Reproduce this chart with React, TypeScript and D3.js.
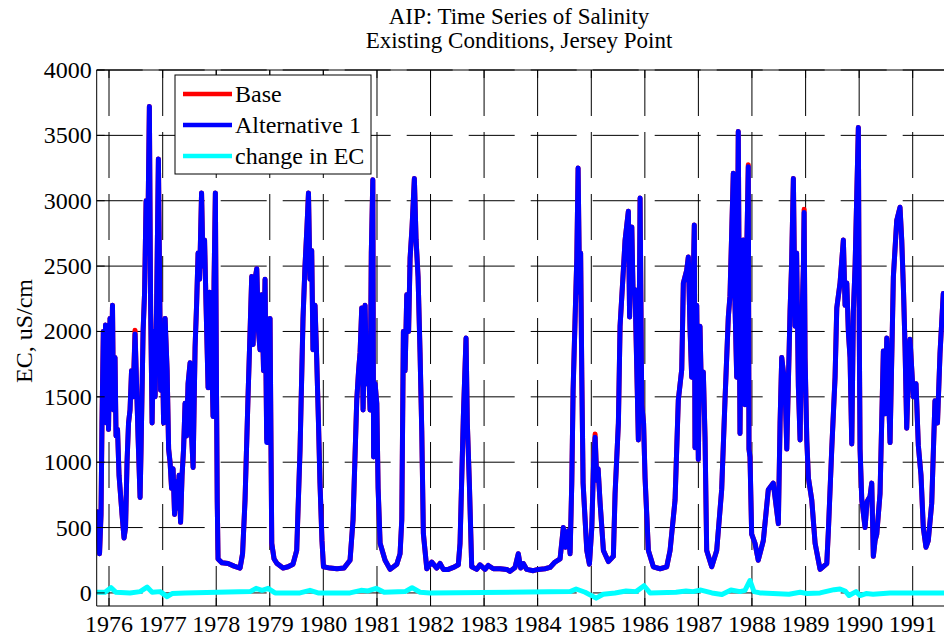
import React from "react";
import * as d3 from "d3";

const titleLines = ["AIP: Time Series of Salinity", "Existing Conditions, Jersey Point"];
const yLabel = "EC, uS/cm";
const legendLabels = ["Base", "Alternative 1", "change in EC"];
const seriesColors = ["#ff0000", "#0000ff", "#00ffff"];
const yTicks = [0, 500, 1000, 1500, 2000, 2500, 3000, 3500, 4000];
const xTickYears = [1976, 1977, 1978, 1979, 1980, 1981, 1982, 1983, 1984, 1985, 1986, 1987, 1988, 1989, 1990, 1991];

// [decimal year, EC uS/cm], Alternative 1
const altSeries: [number, number][] = [
  [1975.776, 620], [1975.795, 450], [1975.823, 300], [1975.851, 600], [1975.869, 1300],
  [1975.894, 2000], [1975.916, 1400], [1975.935, 2050], [1975.953, 1300], [1975.972, 1950],
  [1975.991, 1250], [1976.019, 2100], [1976.037, 1500], [1976.065, 2200], [1976.084, 1400],
  [1976.112, 1800], [1976.131, 1200], [1976.159, 1250], [1976.187, 900], [1976.215, 750],
  [1976.243, 600], [1976.28, 420], [1976.308, 500], [1976.336, 1000], [1976.364, 1300],
  [1976.392, 1400], [1976.42, 1700], [1976.448, 1500], [1976.485, 1980], [1976.513, 1600],
  [1976.541, 1200], [1976.579, 730], [1976.597, 1100], [1976.635, 2000], [1976.663, 2300],
  [1976.691, 3000], [1976.719, 2600], [1976.752, 3720], [1976.775, 2200], [1976.803, 1300],
  [1976.831, 2000], [1976.859, 1500], [1976.887, 2200], [1976.92, 3320], [1976.943, 2400],
  [1976.961, 1550], [1976.989, 2000], [1977.017, 1300], [1977.045, 2100], [1977.083, 1700],
  [1977.111, 1100], [1977.138, 1000], [1977.166, 800], [1977.194, 950], [1977.222, 600],
  [1977.25, 850], [1977.278, 650], [1977.306, 900], [1977.334, 540], [1977.362, 900],
  [1977.39, 1100], [1977.418, 1450], [1977.446, 1200], [1977.474, 1600], [1977.512, 1760],
  [1977.54, 1200], [1977.568, 960], [1977.605, 1880], [1977.633, 2200], [1977.661, 2600],
  [1977.689, 2400], [1977.726, 3060], [1977.754, 2500], [1977.782, 2700], [1977.81, 2200],
  [1977.848, 1570], [1977.876, 2300], [1977.904, 2000], [1977.941, 1350], [1977.96, 2400],
  [1977.984, 3060], [1978.006, 1500], [1978.019, 700], [1978.034, 260], [1978.109, 230],
  [1978.221, 225], [1978.333, 205], [1978.445, 190], [1978.492, 300], [1978.538, 710],
  [1978.594, 1500], [1978.632, 2000], [1978.663, 2420], [1978.688, 1900], [1978.725, 2400],
  [1978.757, 2480], [1978.79, 2000], [1978.818, 1860], [1978.85, 2280], [1978.884, 1700],
  [1978.912, 2400], [1978.943, 1150], [1978.977, 1800], [1979.005, 2100], [1979.037, 380],
  [1979.08, 260], [1979.136, 225], [1979.248, 190], [1979.341, 200], [1979.434, 220],
  [1979.503, 325], [1979.565, 1090], [1979.621, 2100], [1979.658, 2500], [1979.695, 2800],
  [1979.723, 3060], [1979.751, 2400], [1979.783, 2620], [1979.807, 1860], [1979.845, 2200],
  [1979.876, 1800], [1979.91, 1300], [1979.938, 840], [1979.975, 400], [1980.003, 200],
  [1980.125, 190], [1980.255, 185], [1980.386, 190], [1980.498, 250], [1980.554, 560],
  [1980.623, 1475], [1980.657, 1700], [1980.685, 1840], [1980.716, 2180], [1980.741, 1400],
  [1980.778, 2200], [1980.806, 1600], [1980.834, 1860], [1980.871, 1400], [1980.894, 2600],
  [1980.922, 3160], [1980.937, 1040], [1980.965, 1600], [1980.996, 1450], [1981.021, 800],
  [1981.058, 380], [1981.151, 250], [1981.245, 180], [1981.37, 220], [1981.431, 300],
  [1981.463, 560], [1981.493, 2000], [1981.525, 1700], [1981.556, 2280], [1981.59, 2000],
  [1981.618, 2560], [1981.655, 2800], [1981.698, 3170], [1981.73, 2700], [1981.767, 2420],
  [1981.804, 1840], [1981.836, 1240], [1981.866, 455], [1981.93, 185], [1982.023, 236],
  [1982.116, 190], [1982.178, 225], [1982.239, 180], [1982.333, 180], [1982.426, 195],
  [1982.519, 215], [1982.551, 380], [1982.613, 1345], [1982.663, 1950], [1982.687, 1300],
  [1982.725, 840], [1982.769, 200], [1982.863, 180], [1982.924, 215], [1983.018, 180],
  [1983.079, 210], [1983.173, 185], [1983.298, 185], [1983.423, 180], [1983.484, 165],
  [1983.578, 195], [1983.639, 300], [1983.684, 190], [1983.733, 225], [1983.796, 180],
  [1983.919, 170], [1984.013, 180], [1984.138, 185], [1984.231, 195], [1984.324, 236],
  [1984.418, 260], [1984.479, 500], [1984.52, 350], [1984.573, 475], [1984.605, 300],
  [1984.636, 840], [1984.661, 1550], [1984.698, 2100], [1984.73, 2560], [1984.754, 3250],
  [1984.782, 2300], [1984.801, 2600], [1984.823, 1650], [1984.847, 840], [1984.916, 325],
  [1984.965, 220], [1985.009, 500], [1985.043, 1000], [1985.071, 1190], [1985.103, 860],
  [1985.127, 950], [1985.164, 690], [1985.226, 325], [1985.319, 240], [1985.412, 280],
  [1985.444, 760], [1985.506, 1300], [1985.537, 2040], [1985.599, 2470], [1985.631, 2700],
  [1985.692, 2920], [1985.715, 2110], [1985.756, 2800], [1985.78, 2300], [1985.817, 2320],
  [1985.845, 1800], [1985.879, 1170], [1985.911, 3020], [1985.942, 1440], [1985.976, 1300],
  [1986.004, 880], [1986.066, 325], [1986.159, 200], [1986.284, 185], [1986.409, 200],
  [1986.471, 325], [1986.564, 710], [1986.625, 1475], [1986.689, 1710], [1986.719, 2370],
  [1986.782, 2470], [1986.812, 2570], [1986.844, 2020], [1986.875, 1650], [1986.899, 2300],
  [1986.924, 2815], [1986.937, 1110], [1986.969, 2200], [1986.999, 1020], [1987.03, 2040],
  [1987.058, 1500], [1987.092, 1690], [1987.124, 1190], [1987.155, 325], [1987.249, 200],
  [1987.342, 325], [1987.435, 790], [1987.497, 1475], [1987.559, 2110], [1987.59, 2270],
  [1987.652, 3210], [1987.684, 2200], [1987.716, 1650], [1987.745, 3530], [1987.777, 1220],
  [1987.805, 2400], [1987.839, 2700], [1987.87, 1440], [1987.898, 2500], [1987.932, 3260],
  [1987.945, 1100], [1987.964, 1040], [1987.995, 450], [1988.057, 380], [1988.118, 250],
  [1988.212, 400], [1988.305, 790], [1988.398, 840], [1988.492, 530], [1988.524, 1300],
  [1988.555, 1800], [1988.617, 1580], [1988.649, 1100], [1988.71, 2150], [1988.738, 2500],
  [1988.772, 3170], [1988.804, 2040], [1988.832, 2600], [1988.865, 1580], [1988.897, 1170],
  [1988.925, 2000], [1988.959, 2500], [1988.972, 2910], [1988.99, 1800], [1989.022, 1170],
  [1989.052, 880], [1989.115, 710], [1989.177, 380], [1989.27, 180], [1989.395, 225],
  [1989.425, 475], [1989.488, 1100], [1989.55, 1650], [1989.582, 2180], [1989.643, 2370],
  [1989.705, 2700], [1989.737, 2200], [1989.769, 2370], [1989.798, 2000], [1989.83, 1800],
  [1989.862, 1140], [1989.892, 2150], [1989.924, 2500], [1989.985, 3560], [1990.002, 2000],
  [1990.017, 1100], [1990.049, 710], [1990.11, 500], [1990.148, 700], [1990.204, 740],
  [1990.235, 840], [1990.265, 280], [1990.297, 400], [1990.329, 450], [1990.39, 760],
  [1990.452, 1850], [1990.484, 1370], [1990.516, 1950], [1990.577, 1150], [1990.639, 2420],
  [1990.702, 2850], [1990.763, 2950], [1990.795, 2700], [1990.829, 2300], [1990.857, 1880],
  [1990.888, 1260], [1990.922, 1700], [1990.95, 1940], [1991.012, 1500], [1991.062, 1600],
  [1991.105, 1130], [1991.155, 900], [1991.198, 500], [1991.248, 350], [1991.291, 400],
  [1991.355, 685], [1991.416, 1470], [1991.463, 1300], [1991.51, 1830], [1991.571, 2290],
  [1991.622, 2150],
];

// where the red Base line shows above the blue one
const baseOverrides: [number, number][] = [
  [1976.485, 2010], [1978.943, 1175], [1985.071, 1215], [1988.972, 2935], [1987.932, 3275],
];

// change in EC (Alternative 1 minus Base)
const changeSeries: [number, number][] = [
  [1975.776, 5], [1975.925, 5], [1976.037, 40], [1976.131, 5], [1976.392, 0],
  [1976.579, 10], [1976.709, 45], [1976.803, 5], [1976.952, 10], [1977.083, -28],
  [1977.176, -5], [1977.418, 0], [1978.632, 10], [1978.744, 35], [1978.856, 20],
  [1978.968, 35], [1979.098, 0], [1979.565, 0], [1979.751, 20], [1979.901, 0],
  [1980.498, 0], [1980.703, 20], [1980.834, 15], [1980.983, 35], [1981.133, 5],
  [1981.525, 10], [1981.655, 40], [1981.804, 5], [1981.99, 0], [1984.605, 10],
  [1984.717, 30], [1984.885, 5], [1985.09, -40], [1985.221, -10], [1985.444, 0],
  [1985.649, 15], [1985.836, 10], [1985.985, 55], [1986.097, 0], [1986.582, 5],
  [1986.769, 15], [1986.899, 10], [1987.048, 22], [1987.253, 0], [1987.44, -12],
  [1987.608, 22], [1987.777, 10], [1987.87, 20], [1987.964, 95], [1988.038, 10],
  [1988.15, 0], [1988.691, -10], [1988.897, 5], [1989.027, -5], [1989.27, 0],
  [1989.531, 25], [1989.643, 30], [1989.737, 15], [1989.811, -20], [1989.942, 10],
  [1990.017, -20], [1990.129, -5], [1990.26, -10], [1990.577, 0], [1991.622, 0],
];

function yearToDate(y: number) {
  const yr = Math.floor(y);
  const a = Date.UTC(yr, 0, 1);
  const b = Date.UTC(yr + 1, 0, 1);
  return new Date(a + (y - yr) * (b - a));
}

const W = 944;
const H = 637;
const FONT = "'Liberation Serif', 'Times New Roman', Times, serif";

export default function App() {
  const x = d3.scaleUtc().domain([yearToDate(1976), yearToDate(1991)]).range([109, 912.7]);
  const left = 96.7;
  const right = x(yearToDate(1991.75));
  const top = 70;
  const bottom = 606;
  const y = d3.scaleLinear().domain([-100, 4000]).range([bottom, top]);

  const line = d3
    .line<[number, number]>()
    .x((d) => x(yearToDate(d[0])))
    .y((d) => y(d[1]));

  const baseSeries = altSeries.map(([t, v]) => {
    const o = baseOverrides.find((b) => Math.abs(b[0] - t) < 1e-6);
    return [t, o ? o[1] : v] as [number, number];
  });
  const allSeries = [baseSeries, altSeries, changeSeries];

  const legendY = [94, 125, 156];

  return (
    <svg width={W} height={H} style={{ position: "absolute", left: 0, top: 0, background: "#fff" }} fontFamily={FONT}>
      <defs>
        <clipPath id="plotClip">
          <rect x={left} y={top} width={right - left} height={bottom - top} />
        </clipPath>
      </defs>
      <rect x={0} y={0} width={W} height={H} fill="#fff" />

      {/* grid */}
      <g stroke="#000" strokeWidth={1} strokeDasharray="46 16" fill="none">
        {yTicks.map((t) => (
          <line key={"gy" + t} x1={left} x2={right} y1={y(t)} y2={y(t)} />
        ))}
        {xTickYears.map((yr) => (
          <line key={"gx" + yr} x1={x(yearToDate(yr))} x2={x(yearToDate(yr))} y1={top} y2={bottom} />
        ))}
      </g>

      {/* data */}
      <g clipPath="url(#plotClip)" fill="none" strokeLinejoin="round" strokeLinecap="round">
        {allSeries.map((s, i) => (
          <path key={i} d={line(s) ?? ""} stroke={seriesColors[i]} strokeWidth={5} />
        ))}
      </g>

      {/* axes box and ticks */}
      <g stroke="#000" strokeWidth={1} fill="none">
        <line x1={left} x2={right} y1={top} y2={top} />
        <line x1={left} x2={right} y1={bottom} y2={bottom} />
        <line x1={left} x2={left} y1={top} y2={bottom} />
        <line x1={right} x2={right} y1={top} y2={bottom} />
        {yTicks.map((t) => (
          <line key={"ty" + t} x1={left} x2={left + 8} y1={y(t)} y2={y(t)} />
        ))}
        {xTickYears.map((yr) => (
          <g key={"tx" + yr}>
            <line x1={x(yearToDate(yr))} x2={x(yearToDate(yr))} y1={bottom} y2={bottom - 8} />
            <line x1={x(yearToDate(yr))} x2={x(yearToDate(yr))} y1={top} y2={top + 8} />
          </g>
        ))}
      </g>

      {/* tick labels */}
      <g fontSize={24} fill="#000">
        {yTicks.map((t) => (
          <text key={"ly" + t} x={left - 5} y={y(t) + 8} textAnchor="end">
            {t}
          </text>
        ))}
        {xTickYears.map((yr) => (
          <text key={"lx" + yr} x={x(yearToDate(yr))} y={632} textAnchor="middle">
            {yr}
          </text>
        ))}
      </g>

      {/* y label */}
      <text transform="translate(32,331) rotate(-90)" textAnchor="middle" fontSize={24} fill="#000">
        {yLabel}
      </text>

      {/* title */}
      <g fontSize={23} fill="#000" textAnchor="middle">
        <text x={519} y={23.5}>{titleLines[0]}</text>
        <text x={519} y={48}>{titleLines[1]}</text>
      </g>

      {/* legend */}
      <g>
        <rect x={175} y={75} width={196} height={99} fill="#fff" stroke="#000" strokeWidth={1} />
        {legendLabels.map((lab, i) => (
          <g key={lab}>
            <line x1={183} x2={232} y1={legendY[i]} y2={legendY[i]} stroke={seriesColors[i]} strokeWidth={4.5} />
            <text x={235} y={legendY[i] + 8} fontSize={24} fill="#000">
              {lab}
            </text>
          </g>
        ))}
      </g>
    </svg>
  );
}
